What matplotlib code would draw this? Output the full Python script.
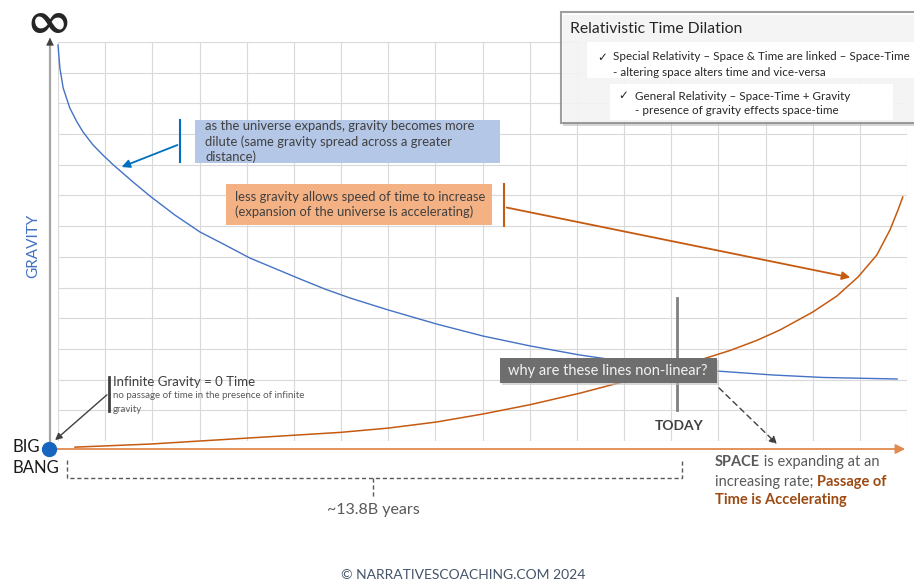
import matplotlib.pyplot as plt
from matplotlib.patches import Rectangle, FancyBboxPatch

plt.rcParams['font.family'] = ['Lato', 'DejaVu Sans']

# gravity falls off as the universe expands (grid units: x = time, y = level)
gravity_x = [0.0, 0.04, 0.11, 0.25, 0.40, 0.53, 0.74, 0.95, 1.17, 1.59, 1.95, 2.48,
             3.01, 3.54, 4.07, 4.60, 5.13, 5.66, 6.19, 7.0, 8.03, 9.01, 10.0, 11.07,
             11.98, 13.0, 13.97, 15.16, 16.22, 17.79]
gravity_y = [12.9, 12.15, 11.5, 10.85, 10.4, 10.07, 9.65, 9.32, 9.0, 8.44, 7.98, 7.36,
             6.81, 6.39, 5.96, 5.62, 5.28, 4.95, 4.66, 4.27, 3.81, 3.42, 3.1, 2.8,
             2.6, 2.43, 2.28, 2.15, 2.07, 2.02]

# passage of time speeds up
time_x = [0.36, 1.95, 3.01, 4.07, 5.98, 7.0, 8.03, 9.01, 10.0, 11.07, 12.06, 12.87,
          13.61, 14.25, 14.82, 15.31, 16.0, 16.51, 16.96, 17.36, 17.64, 17.81, 17.91]
time_y = [-0.2, -0.1, 0.0, 0.1, 0.28, 0.42, 0.62, 0.88, 1.18, 1.56, 1.96, 2.28,
          2.64, 2.95, 3.28, 3.62, 4.2, 4.72, 5.34, 6.06, 6.88, 7.53, 7.95]

n_cols = 18
n_rows = 13

BLUE = '#4472C4'
ORANGE = '#C55A11'
BROWN = '#9C4A12'
DARK = '#404040'
GREY = '#595959'

fig = plt.figure(figsize=(9.14, 5.84), dpi=100)
W, H = 914, 584

ax = fig.add_axes([58 / W, (H - 441) / H, (907 - 58) / W, (441 - 42) / H])
ax.set_xlim(0, n_cols)
ax.set_ylim(0, n_rows)
ax.set_xticks(range(n_cols + 1))
ax.set_yticks(range(n_rows + 1))
ax.tick_params(length=0, labelbottom=False, labelleft=False)
ax.grid(True, color='#d9d9d9', lw=0.8)
for s in ax.spines.values():
    s.set_visible(False)

ax.plot(gravity_x, gravity_y, color=BLUE, lw=1.0, clip_on=False, zorder=3)
ax.plot(time_x, time_y, color=ORANGE, lw=1.1, clip_on=False, zorder=3)

# overlay in pixel units for labels, boxes and arrows
ov = fig.add_axes([0, 0, 1, 1])
ov.set_xlim(0, W)
ov.set_ylim(H, 0)
ov.axis('off')
ov.patch.set_alpha(0)

# axes arrows
ov.annotate('', xy=(908, 449), xytext=(48, 449),
            arrowprops=dict(arrowstyle='-|>', color='#E08A50', lw=1.3, mutation_scale=14))
ov.plot([50, 50], [449, 42], color='#A6A6A6', lw=1.6)
ov.annotate('', xy=(50, 35), xytext=(50, 44),
            arrowprops=dict(arrowstyle='-|>', color=DARK, lw=0.5, mutation_scale=12))
ov.text(49, 33, '∞', fontsize=32, color='#262626', ha='center', va='baseline',
        family='STIXGeneral', fontweight='bold')
ov.plot(49, 449, 'o', ms=10, color='#1666C0', zorder=5)

ov.text(33, 246, 'GRAVITY', rotation=90, color=BLUE, fontsize=11, ha='center', va='center')
ov.text(12, 447, 'BIG', fontsize=12, color='#1a1a1a', va='center')
ov.text(12, 468, 'BANG', fontsize=12, color='#1a1a1a', va='center')

# legend box
ov.add_patch(Rectangle((563, 15), 360, 111, facecolor='#b0b0b0', alpha=0.5, lw=0, zorder=1))
ov.add_patch(Rectangle((561, 12), 360, 111, facecolor='white', alpha=0.75,
                       edgecolor='#7f7f7f', lw=1.5, zorder=2))
ov.add_patch(Rectangle((587, 42), 330, 36, facecolor='white', lw=0, zorder=3))
ov.add_patch(Rectangle((610, 84), 283, 36, facecolor='white', lw=0, zorder=3))
ov.text(570, 29, 'Relativistic Time Dilation', fontsize=11.3, color='#262626', va='center', zorder=4)
ov.text(597, 57, '✓', fontsize=8.5, color='#262626', va='center', zorder=4)
ov.text(613, 57, 'Special Relativity – Space & Time are linked – Space-Time',
        fontsize=8.4, color='#262626', va='center', zorder=4)
ov.text(613, 72, '- altering space alters time and vice-versa',
        fontsize=8.4, color='#262626', va='center', zorder=4)
ov.text(618, 96, '✓', fontsize=8.5, color='#262626', va='center', zorder=4)
ov.text(635, 96, 'General Relativity – Space-Time + Gravity',
        fontsize=8.4, color='#262626', va='center', zorder=4)
ov.text(635, 111, '- presence of gravity effects space-time',
        fontsize=8.4, color='#262626', va='center', zorder=4)

# blue callout
ov.add_patch(Rectangle((195, 120), 305, 43, facecolor='#B4C7E7', lw=0))
ov.text(205, 126, 'as the universe expands, gravity becomes more', fontsize=9.4, color=DARK, va='center')
ov.text(205, 142, 'dilute (same gravity spread across a greater', fontsize=9.4, color=DARK, va='center')
ov.text(205, 157, 'distance)', fontsize=9.4, color=DARK, va='center')
ov.plot([180, 180], [120, 162], color='#0070C0', lw=1.5)
ov.annotate('', xy=(119, 168), xytext=(180, 144),
            arrowprops=dict(arrowstyle='-|>', color='#0070C0', lw=1.3, mutation_scale=12))

# orange callout
ov.add_patch(Rectangle((226, 184), 266, 41, facecolor='#F4B183', lw=0))
ov.text(235, 197, 'less gravity allows speed of time to increase', fontsize=9.4, color=DARK, va='center')
ov.text(235, 212, '(expansion of the universe is accelerating)', fontsize=9.4, color=DARK, va='center')
ov.plot([504, 504], [184, 226], color=ORANGE, lw=1.5)
ov.annotate('', xy=(853, 278), xytext=(504, 207),
            arrowprops=dict(arrowstyle='-|>', color=ORANGE, lw=1.3, mutation_scale=12))

# big bang note
ov.plot([109, 109], [377, 411], color=DARK, lw=2)
ov.text(113, 382, 'Infinite Gravity = 0 Time', fontsize=9.5, color=DARK, va='center')
ov.text(113, 396, 'no passage of time in the presence of infinite', fontsize=7, color=GREY, va='center')
ov.text(113, 409, 'gravity', fontsize=7, color=GREY, va='center')
ov.annotate('', xy=(53, 442), xytext=(109, 393),
            arrowprops=dict(arrowstyle='-|>', color=DARK, lw=1.0, mutation_scale=10))

# today marker
ov.plot([677, 677], [298, 410], color='#7f7f7f', lw=2)
ov.text(679, 426, 'TODAY', fontsize=10, fontweight='bold', color=DARK, ha='center', va='center')

ov.add_patch(FancyBboxPatch((502, 360), 217, 25, boxstyle='square,pad=0',
                            facecolor='#bfbfbf', lw=0, alpha=0.6, zorder=4))
ov.add_patch(FancyBboxPatch((500, 358), 217, 25, boxstyle='square,pad=0',
                            facecolor='#6e6e6e', lw=0, zorder=5))
ov.text(508, 371, 'why are these lines non-linear?', fontsize=10.5, color='#f2f2f2',
        va='center', zorder=6)
ov.annotate('', xy=(779, 446), xytext=(717, 386),
            arrowprops=dict(arrowstyle='-|>', color=DARK, lw=1.0, ls=(0, (4, 3)),
                            mutation_scale=11))

# age bracket
ov.plot([67, 67, 682, 682], [460, 478, 478, 460], color=GREY, lw=1.0, ls=(0, (3, 2)))
ov.plot([373, 373], [478, 497], color=GREY, lw=1.0, ls=(0, (3, 2)))
ov.text(373, 510, '~13.8B years', fontsize=11.5, color=GREY, ha='center', va='center')

# space caption, pieces chained so mixed weights sit flush
t1 = ov.text(715, 462, 'SPACE', fontsize=10.5, fontweight='bold', color=GREY, va='center')
ov.annotate(' is expanding at an', xy=(1, 0.5), xycoords=t1, fontsize=10.5,
            color=GREY, va='center', ha='left')
t2 = ov.text(715, 482, 'increasing rate; ', fontsize=10.5, color=GREY, va='center')
ov.annotate('Passage of', xy=(1, 0.5), xycoords=t2, fontsize=10.5, fontweight='bold',
            color=BROWN, va='center', ha='left')
ov.text(715, 500, 'Time is Accelerating', fontsize=10.5, fontweight='bold', color=BROWN, va='center')

ov.text(463, 575, '© NARRATIVESCOACHING.COM 2024', fontsize=10, color='#44546A',
        ha='center', va='center')

fig.savefig('out.png', dpi=100)
